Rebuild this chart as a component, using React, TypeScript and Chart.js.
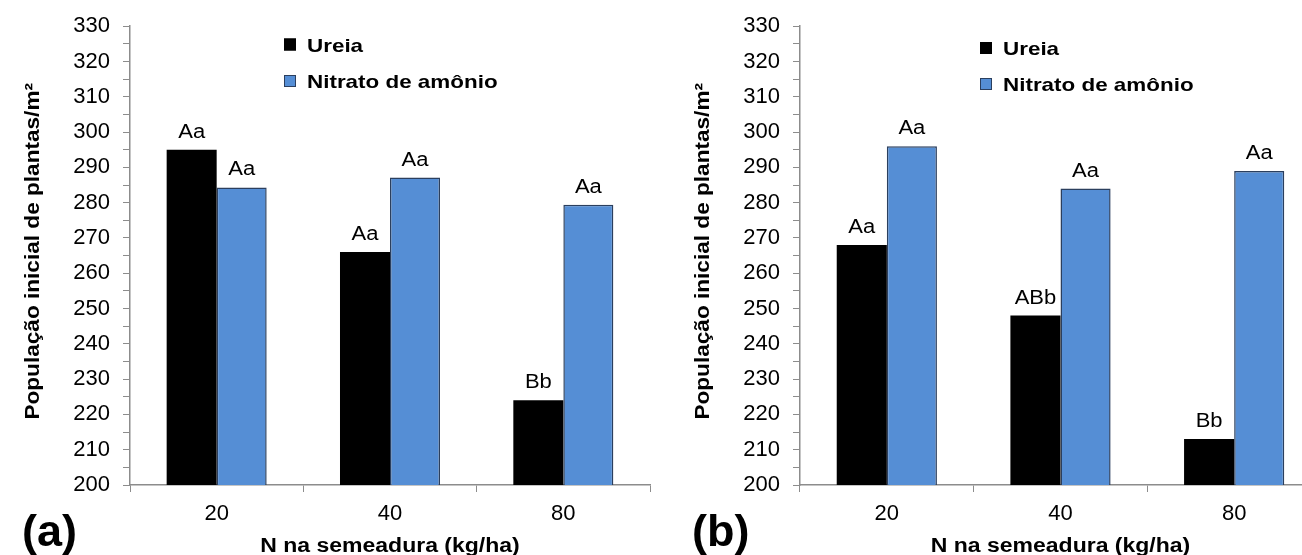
import React, { useEffect, useRef } from "react";
import { Chart, registerables } from "chart.js";

Chart.register(...registerables);

// ---------- data ----------
const categories = ["20", "40", "80"];
const seriesNames = ["Ureia", "Nitrato de amônio"];

const ureiaA = [295, 266, 224];
const nitratoA = [284.3, 287.1, 279.4];
const ureiaLettersA = ["Aa", "Aa", "Bb"];
const nitratoLettersA = ["Aa", "Aa", "Aa"];

const ureiaB = [268, 248, 213];
const nitratoB = [296, 284, 289];
const ureiaLettersB = ["Aa", "ABb", "Bb"];
const nitratoLettersB = ["Aa", "Aa", "Aa"];

const yMin = 200;
const yMax = 330;
const yStep = 5;
const yLabelStep = 10;

const yTitle = "População inicial de plantas/m²";
const xTitle = "N na semeadura (kg/ha)";
const panelLetters = ["(a)", "(b)"];

// ---------- styles ----------
const FONT = "'Liberation Sans', Arial, Helvetica, sans-serif";
const BLACK = "#000000";
const BLUE = "#558ED5";
const BLUE_BORDER = "#2B3F5E";
const AXIS = "#8C8C8C";
const H = 555;

type PanelProps = {
  ureia: number[];
  nitrato: number[];
  ureiaLetters: string[];
  nitratoLetters: string[];
  left: number;
  width: number;
  axisLeft: number;
  axisRight: number;
  legendX: number;
  legendY: number[];
  letter: string;
  letterX: number;
  titleBaselineX: number;
};

function drawStretched(
  ctx: CanvasRenderingContext2D,
  text: string,
  x: number,
  y: number,
  sx: number,
  align: CanvasTextAlign,
  rotate = 0
) {
  ctx.save();
  ctx.translate(x, y);
  if (rotate) ctx.rotate(rotate);
  ctx.scale(sx, 1);
  ctx.textAlign = align;
  ctx.fillText(text, 0, 0);
  ctx.restore();
}

function Panel(p: PanelProps) {
  const ref = useRef<HTMLCanvasElement | null>(null);
  useEffect(() => {
    const canvas = ref.current;
    if (!canvas) return;
    const letters = [p.ureiaLetters, p.nitratoLetters];

    const overlay = {
      id: "overlay",
      afterDatasetsDraw(chart: any) {
        const ctx = chart.ctx as CanvasRenderingContext2D;
        const area = chart.chartArea;
        ctx.save();
        ctx.fillStyle = "#000";
        ctx.textBaseline = "alphabetic";
        // value letters above bars
        ctx.font = `20px ${FONT}`;
        chart.data.datasets.forEach((ds: any, di: number) => {
          const meta = chart.getDatasetMeta(di);
          meta.data.forEach((el: any, i: number) => {
            drawStretched(ctx, letters[di][i], el.x, el.y - 12, 1.1, "center");
          });
        });
        // legend
        const colors = [
          [BLACK, BLACK],
          [BLUE, BLUE_BORDER],
        ];
        ctx.font = `bold 19px ${FONT}`;
        seriesNames.forEach((name, i) => {
          const cy = p.legendY[i];
          ctx.fillStyle = colors[i][0];
          ctx.fillRect(p.legendX, cy - 6, 12, 12);
          ctx.strokeStyle = colors[i][1];
          ctx.lineWidth = 1;
          ctx.strokeRect(p.legendX + 0.5, cy - 5.5, 11, 11);
          ctx.fillStyle = "#000";
          drawStretched(ctx, name, p.legendX + 23, cy + 7, 1.18, "left");
        });
        // y title
        ctx.font = `bold 20px ${FONT}`;
        drawStretched(ctx, yTitle, p.titleBaselineX, 83, 1.13, "right", -Math.PI / 2);
        // x title
        ctx.font = `bold 20px ${FONT}`;
        drawStretched(ctx, xTitle, (area.left + area.right) / 2, 552, 1.15, "center");
        // panel letter
        ctx.font = `bold 45px ${FONT}`;
        ctx.textAlign = "left";
        ctx.fillText(p.letter, p.letterX, 546);
        ctx.restore();
      },
    };

    const chart = new Chart(canvas, {
      type: "bar",
      data: {
        labels: categories,
        datasets: [
          {
            label: seriesNames[0],
            data: p.ureia,
            backgroundColor: BLACK,
            borderColor: BLACK,
            borderWidth: 0,
          },
          {
            label: seriesNames[1],
            data: p.nitrato,
            backgroundColor: BLUE,
            borderColor: BLUE_BORDER,
            borderWidth: 1.5,
          },
        ],
      },
      options: {
        responsive: false,
        animation: false,
        devicePixelRatio: 1,
        layout: {
          padding: { left: 0, right: p.width - p.axisRight, top: 23, bottom: 0 },
        },
        datasets: {
          bar: { categoryPercentage: 0.577, barPercentage: 1.0 },
        },
        plugins: {
          legend: { display: false },
          tooltip: { enabled: false },
        },
        scales: {
          x: {
            type: "category",
            offset: true,
            grid: {
              display: true,
              offset: true,
              drawOnChartArea: false,
              drawTicks: true,
              tickLength: 7,
              color: AXIS,
            },
            border: { display: true, color: AXIS, width: 1.5 },
            ticks: {
              font: { family: FONT, size: 22 },
              color: "#000",
              padding: 9,
              maxRotation: 0,
            },
            afterFit: (s: any) => {
              s.height = H - 485;
            },
          },
          y: {
            type: "linear",
            min: yMin,
            max: yMax,
            grid: {
              display: true,
              drawOnChartArea: false,
              drawTicks: true,
              tickLength: 7,
              color: AXIS,
            },
            border: { display: true, color: AXIS, width: 1.5 },
            ticks: {
              stepSize: yStep,
              autoSkip: false,
              font: { family: FONT, size: 22 },
              color: "#000",
              padding: 13,
              callback: (v: any) => (Number(v) % yLabelStep === 0 ? String(v) : ""),
            },
            afterFit: (s: any) => {
              s.width = p.axisLeft;
            },
          },
        },
      },
      plugins: [overlay],
    } as any);
    return () => chart.destroy();
  }, []);

  return (
    <canvas
      ref={ref}
      width={p.width}
      height={H}
      style={{ position: "absolute", left: p.left, top: 0, width: p.width, height: H }}
    />
  );
}

export default function App() {
  return (
    <div
      style={{
        position: "absolute",
        left: 0,
        top: 0,
        width: 1302,
        height: H,
        overflow: "hidden",
        background: "#fff",
      }}
    >
      <Panel
        ureia={ureiaA}
        nitrato={nitratoA}
        ureiaLetters={ureiaLettersA}
        nitratoLetters={nitratoLettersA}
        left={0}
        width={665}
        axisLeft={130}
        axisRight={650}
        legendX={284}
        legendY={[44.5, 81]}
        letter={panelLetters[0]}
        letterX={22}
        titleBaselineX={39}
      />
      <Panel
        ureia={ureiaB}
        nitrato={nitratoB}
        ureiaLetters={ureiaLettersB}
        nitratoLetters={nitratoLettersB}
        left={665}
        width={680}
        axisLeft={135}
        axisRight={656}
        legendX={315}
        legendY={[48, 84]}
        letter={panelLetters[1]}
        letterX={27}
        titleBaselineX={44}
      />
    </div>
  );
}
